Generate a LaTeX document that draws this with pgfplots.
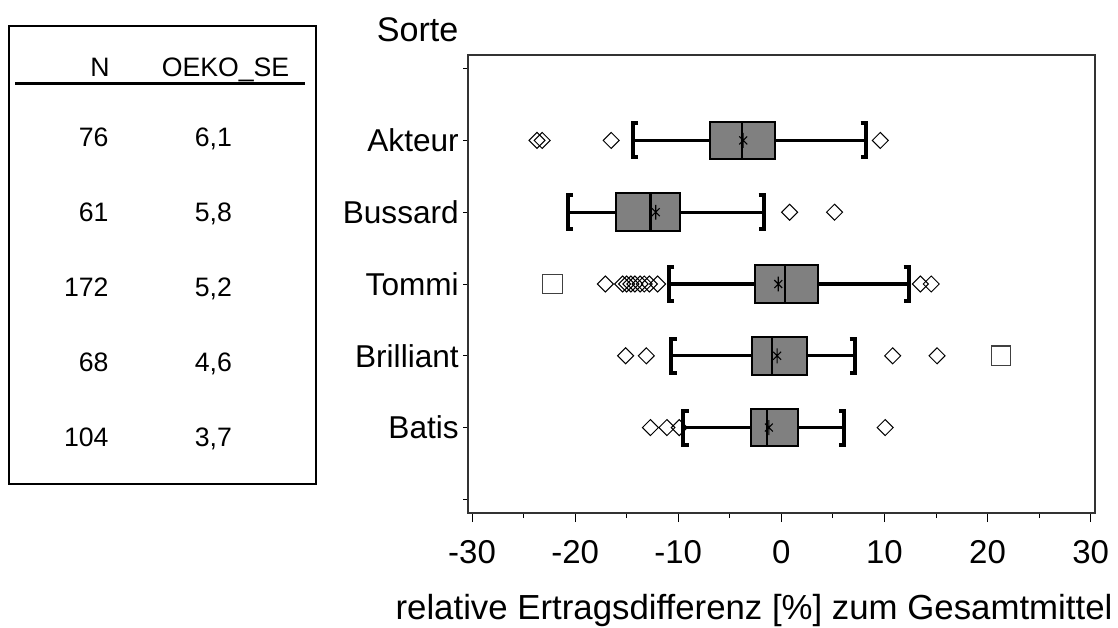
\documentclass[border=0pt]{standalone}
\usepackage{fontspec}
\setmainfont{Liberation Sans}
\usepackage{pgfplots}
\pgfplotsset{compat=1.18}

% outlier: a diamond as tall as it is wide
\pgfdeclareplotmark{sasdiamond}{%
  \pgfpathmoveto{\pgfqpoint{0pt}{\pgfplotmarksize}}%
  \pgfpathlineto{\pgfqpoint{\pgfplotmarksize}{0pt}}%
  \pgfpathlineto{\pgfqpoint{0pt}{-\pgfplotmarksize}}%
  \pgfpathlineto{\pgfqpoint{-\pgfplotmarksize}{0pt}}%
  \pgfpathclose
  \pgfusepathqstroke}
% mean: vertical bar with a cross
\pgfdeclareplotmark{sasstar}{%
  \pgfpathmoveto{\pgfqpoint{0pt}{-\pgfplotmarksize}}%
  \pgfpathlineto{\pgfqpoint{0pt}{\pgfplotmarksize}}%
  \pgfpathmoveto{\pgfpointpolar{45}{-0.75\pgfplotmarksize}}%
  \pgfpathlineto{\pgfpointpolar{45}{0.75\pgfplotmarksize}}%
  \pgfpathmoveto{\pgfpointpolar{-45}{-0.75\pgfplotmarksize}}%
  \pgfpathlineto{\pgfpointpolar{-45}{0.75\pgfplotmarksize}}%
  \pgfusepathqstroke}

\pgfplotsset{
  whisk/.style={black, line width=2.4pt, mark=none, forget plot},
  boxst/.style={draw=black, fill=gray, line width=1.5pt, line cap=rect, mark=none, forget plot},
  medst/.style={black, line width=1.8pt, mark=none, forget plot},
  capst/.style={black, line width=3pt, line join=miter, mark=none, forget plot},
  meanst/.style={black, only marks, mark=sasstar, mark size=5.6pt, mark options={line width=0.8pt}, forget plot},
  outst/.style={black, only marks, mark=sasdiamond, mark size=6pt, mark options={line width=0.75pt}, forget plot},
  farst/.style={black!75, only marks, mark=square, mark size=7.3pt, mark options={line width=1pt}, forget plot},
}

% #1 position, #2 lower whisker, #3 lower quartile, #4 median,
% #5 upper quartile, #6 upper whisker, #7 mean
\newcommand\sasbox[7]{%
  \pgfmathsetmacro\yb{#1-0.262}\pgfmathsetmacro\yt{#1+0.262}%
  \pgfmathsetmacro\cb{#1-0.236}\pgfmathsetmacro\ct{#1+0.236}%
  \pgfmathsetmacro\sl{#2+0.5}\pgfmathsetmacro\sr{#6-0.5}%
  \addplot[whisk] coordinates {(#2,#1) (#3,#1)};
  \addplot[whisk] coordinates {(#5,#1) (#6,#1)};
  \addplot[boxst] coordinates {(#3,\yb) (#5,\yb) (#5,\yt) (#3,\yt) (#3,\yb)};
  \addplot[medst] coordinates {(#4,\yb) (#4,\yt)};
  \addplot[capst] coordinates {(\sl,\cb) (#2,\cb) (#2,\ct) (\sl,\ct)};
  \addplot[capst] coordinates {(\sr,\cb) (#6,\cb) (#6,\ct) (\sr,\ct)};
  \addplot[meanst] coordinates {(#7,#1)};
}

\begin{document}
\begin{tikzpicture}
\begin{axis}[
  at={(351pt,-384.75pt)}, anchor=south west,
  scale only axis, width=470.25pt, height=343.5pt,
  xmin=-30.39, xmax=30.42,
  ymin=-0.19, ymax=6.19, y dir=reverse,
  xtick={-30,-20,...,30}, minor x tick num=1,
  ytick={0,...,6},
  yticklabels={,Akteur,Bussard,Tommi,Brilliant,Batis,},
  tick align=outside, xtick pos=bottom, ytick pos=left,
  major tick length=6.75pt, minor tick length=3.75pt,
  ytick style={/pgfplots/major tick length=3.75pt},
  tick style={black, line width=0.75pt},
  axis line style={black!80, line width=0.9pt},
  /pgf/number format/assume math mode=true,
  xticklabel style={font=\fontsize{24.75}{30}\selectfont, anchor=north, inner sep=0pt, yshift=-13.5pt},
  yticklabel style={font=\fontsize{23.7}{28}\selectfont, anchor=east, inner sep=0pt},
]
% Akteur
\sasbox{1}{-14.4}{-6.94}{-3.79}{-0.58}{8.2}{-3.7}
\addplot[outst] coordinates {(-23.7,1) (-23.2,1) (-16.5,1) (9.6,1)};
% Bussard
\sasbox{2}{-20.7}{-16.06}{-12.7}{-9.81}{-1.7}{-12.18}
\addplot[outst] coordinates {(0.8,2) (5.16,2)};
% Tommi
\sasbox{3}{-10.9}{-2.6}{0.37}{3.58}{12.37}{-0.3}
\addplot[outst] coordinates {(-17.06,3) (-15.4,3) (-15.0,3) (-14.6,3) (-14.2,3) (-13.7,3) (-13.3,3) (-12.8,3) (-12.0,3) (13.48,3) (14.54,3)};
\addplot[farst] coordinates {(-22.2,3)};
% Brilliant
\sasbox{4}{-10.66}{-2.83}{-0.92}{2.5}{7.13}{-0.41}
\addplot[outst] coordinates {(-15.1,4) (-13.1,4) (10.8,4) (15.1,4)};
\addplot[farst] coordinates {(21.3,4)};
% Batis
\sasbox{5}{-9.5}{-2.96}{-1.41}{1.6}{6.11}{-1.21}
\addplot[outst] coordinates {(-12.7,5) (-11.1,5) (-9.9,5) (10.07,5)};
\end{axis}

\begin{scope}[x=0.75pt, y=-0.75pt]
\path[use as bounding box] (0,0) rectangle (1118,628);
\node[anchor=base west, inner sep=0pt, font=\fontsize{25.6}{30}\selectfont] at (376.5,41.7) {Sorte};
\node[anchor=base, inner sep=0pt, font=\fontsize{26.1}{30}\selectfont] at (754,619) {relative Ertragsdifferenz [\%] zum Gesamtmittel};
% table of counts and standard errors
\draw[black, line width=1.2pt] (9,26) rectangle (316,484);
\draw[black, line width=1.6pt] (15,83.5) -- (305,83.5);
\begin{scope}[every node/.style={inner sep=0pt, font=\fontsize{20}{24}\selectfont}]
\node[anchor=base] at (100,76.7) {N};
\node[anchor=base west] at (161.5,76.7) {OEKO\_SE};
\foreach \n/\se/\yy in {76/{6,1}/146.7, 61/{5,8}/221.7, 172/{5,2}/296.7, 68/{4,6}/371.7, 104/{3,7}/446.7} {
  \node[anchor=base east] at (108.8,\yy) {\n};
  \node[anchor=base west] at (194.5,\yy) {\se};
}
\end{scope}
\end{scope}
\end{tikzpicture}
\end{document}
